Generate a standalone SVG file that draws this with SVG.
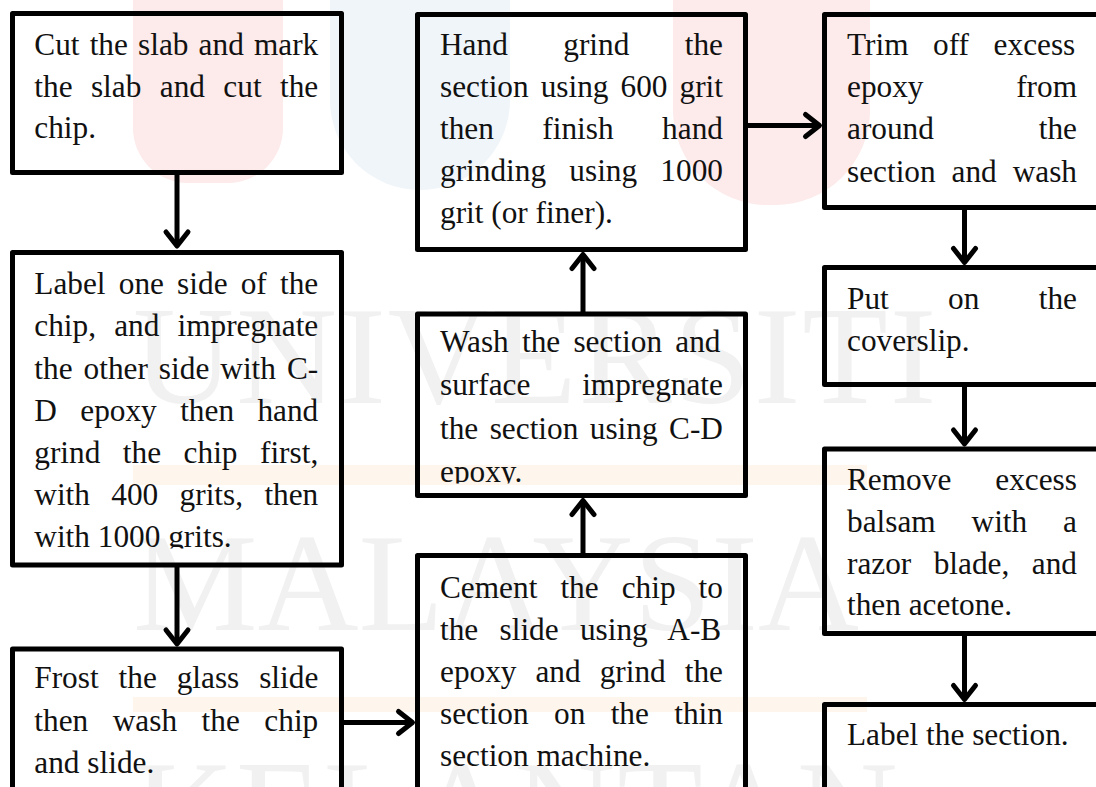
<svg xmlns="http://www.w3.org/2000/svg" width="1096" height="787" viewBox="0 0 1096 787">
  <defs>
    <style>
      .box { fill: none; stroke: #000; stroke-width: 5; stroke-linejoin: round; }
      .t { font-family: "Liberation Serif", "Times New Roman", serif; font-size: 31.3px; fill: #111; }
      .wm { font-family: "Liberation Serif", "Times New Roman", serif; font-size: 140px; fill: #f1f1f1; }
      .link { fill: none; stroke: #000; stroke-width: 5; marker-end: url(#arrow); }
    </style>
    <marker id="arrow" markerUnits="userSpaceOnUse" viewBox="-20 -16 24 32" refX="0" refY="0" markerWidth="24" markerHeight="32" orient="auto" overflow="visible">
      <path d="M-14,-11 L0,0 L-14,11" fill="none" stroke="#000" stroke-width="5" stroke-linecap="round" stroke-linejoin="round"/>
    </marker>
    <clipPath id="clip-b2"><rect x="15" y="255" width="324" height="293.5"/></clipPath>
    <clipPath id="clip-b5"><rect x="420" y="316" width="323" height="167.5"/></clipPath>
  </defs>

  <rect width="1096" height="787" fill="#fff"/>

  <!-- faint background watermark -->
  <g id="watermark">
    <rect x="133" y="-60" width="150" height="243" rx="55" fill="#fdeaea"/>
    <rect x="330" y="-120" width="180" height="310" rx="90" fill="#f0f5f9"/>
    <rect x="673" y="-100" width="197" height="305" rx="95" fill="#fdeaea"/>
    <rect x="133" y="465" width="734" height="20" fill="#fef5ec"/>
    <rect x="133" y="697" width="734" height="15" fill="#fef5ec"/>
    <text class="wm" x="133" y="403" letter-spacing="2">UNIVERSITI</text>
    <text class="wm" x="133" y="630" letter-spacing="0">MALAYSIA</text>
    <text class="wm" x="133" y="857" letter-spacing="2">KELANTAN</text>
  </g>

  <!-- left column -->
  <g id="n1">
    <rect class="box" x="12.5" y="13.5" width="329" height="159"/>
    <text class="t" x="34.3" y="55" style="word-spacing:2.32px">Cut the slab and mark</text>
    <text class="t" x="34.3" y="96.7" style="word-spacing:10.58px">the slab and cut the</text>
    <text class="t" x="34.3" y="138.3">chip.</text>
  </g>
  <g id="n2">
    <rect class="box" x="12.5" y="252.5" width="329" height="312.5"/>
    <g clip-path="url(#clip-b2)">
      <text class="t" x="34.3" y="294.3" style="word-spacing:5.37px">Label one side of the</text>
      <text class="t" x="34.3" y="336.4" style="word-spacing:10.31px">chip, and impregnate</text>
      <text class="t" x="34.3" y="378.5" style="word-spacing:3.19px">the other side with C-</text>
      <text class="t" x="34.3" y="420.6" style="word-spacing:15.56px">D epoxy then hand</text>
      <text class="t" x="34.3" y="462.7" style="word-spacing:14.68px">grind the chip first,</text>
      <text class="t" x="34.3" y="504.8" style="word-spacing:13.52px">with 400 grits, then</text>
      <text class="t" x="34.3" y="546.9">with 1000 grits.</text>
    </g>
  </g>
  <g id="n3">
    <rect class="box" x="12.5" y="649" width="329" height="160"/>
    <text class="t" x="34.3" y="688.3" style="word-spacing:12.07px">Frost the glass slide</text>
    <text class="t" x="34.3" y="730.6" style="word-spacing:16.72px">then wash the chip</text>
    <text class="t" x="34.3" y="772.9">and slide.</text>
  </g>

  <!-- middle column -->
  <g id="n4">
    <rect class="box" x="417.5" y="555.5" width="328" height="250"/>
    <text class="t" x="440" y="598.3" style="word-spacing:15.22px">Cement the chip to</text>
    <text class="t" x="440" y="640.3" style="word-spacing:13.47px">the slide using A-B</text>
    <text class="t" x="440" y="682.3" style="word-spacing:11.17px">epoxy and grind the</text>
    <text class="t" x="440" y="724.3" style="word-spacing:17.53px">section on the thin</text>
    <text class="t" x="440" y="766.3">section machine.</text>
  </g>
  <g id="n5">
    <rect class="box" x="417.5" y="314" width="328" height="181.5"/>
    <g clip-path="url(#clip-b5)">
      <text class="t" x="440" y="351.5" style="word-spacing:5.38px">Wash the section and</text>
      <text class="t" x="440" y="395" style="word-spacing:43.99px">surface impregnate</text>
      <text class="t" x="440" y="438.5" style="word-spacing:3.63px">the section using C-D</text>
      <text class="t" x="440" y="482">epoxy.</text>
    </g>
  </g>
  <g id="n6">
    <rect class="box" x="417.5" y="14.5" width="328" height="235"/>
    <text class="t" x="440" y="55" style="word-spacing:47.62px">Hand grind the</text>
    <text class="t" x="440" y="97.1" style="word-spacing:4.2px">section using 600 grit</text>
    <text class="t" x="440" y="139.2" style="word-spacing:40.65px">then finish hand</text>
    <text class="t" x="440" y="181.3" style="word-spacing:15.42px">grinding using 1000</text>
    <text class="t" x="440" y="223.4">grit (or finer).</text>
  </g>

  <!-- right column -->
  <g id="n7">
    <rect class="box" x="824.5" y="14.5" width="290" height="193"/>
    <text class="t" x="847" y="55" style="word-spacing:16.78px">Trim off excess</text>
    <text class="t" x="847" y="97.2" style="word-spacing:84.83px">epoxy from</text>
    <text class="t" x="847" y="139.4" style="word-spacing:97px">around the</text>
    <text class="t" x="847" y="181.6" style="word-spacing:8.08px">section and wash</text>
  </g>
  <g id="n8">
    <rect class="box" x="824.5" y="267.5" width="290" height="117"/>
    <text class="t" x="847" y="309.3" style="word-spacing:51.52px">Put on the</text>
    <text class="t" x="847" y="350.7">coverslip.</text>
  </g>
  <g id="n9">
    <rect class="box" x="824.5" y="449" width="290" height="184.5"/>
    <text class="t" x="847" y="490" style="word-spacing:36.16px">Remove excess</text>
    <text class="t" x="847" y="531.8" style="word-spacing:28.06px">balsam with a</text>
    <text class="t" x="847" y="573.5" style="word-spacing:14.62px">razor blade, and</text>
    <text class="t" x="847" y="615.2">then acetone.</text>
  </g>
  <g id="n10">
    <rect class="box" x="824.5" y="704.5" width="290" height="120"/>
    <text class="t" x="847" y="745">Label the section.</text>
  </g>

  <!-- connectors -->
  <g id="connectors">
    <path class="link" d="M177,172.5 V246"/>
    <path class="link" d="M177,565 V644"/>
    <path class="link" d="M341.5,722.5 H412.5"/>
    <path class="link" d="M583,555.5 V500.5"/>
    <path class="link" d="M583,314 V254.5"/>
    <path class="link" d="M745.5,125.5 H819.5"/>
    <path class="link" d="M964.5,207.5 V262.5"/>
    <path class="link" d="M964.5,384.5 V444"/>
    <path class="link" d="M964.5,633.5 V699.5"/>
  </g>
</svg>
